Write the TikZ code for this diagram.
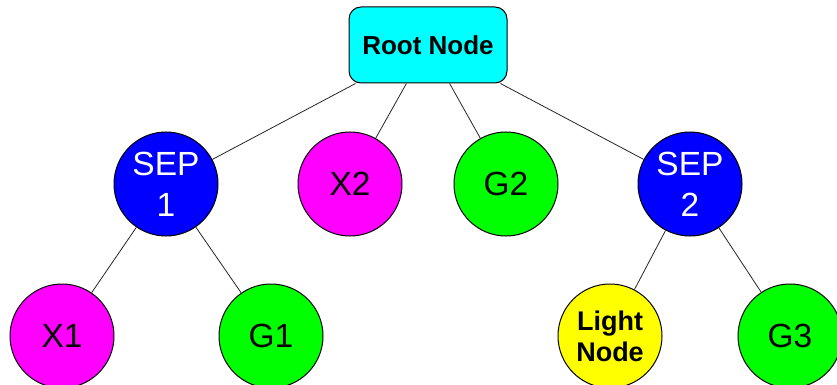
\documentclass[tikz,border=0pt]{standalone}
\usepackage{fontspec}
\setmainfont{Liberation Sans}
\begin{document}
\begin{tikzpicture}[x=1pt,y=-1pt,
  tnode/.style={circle,draw=black,line width=1pt,minimum size=104pt,inner sep=0pt,align=center,font=\fontsize{33.5}{41}\selectfont},
  sepnode/.style={tnode,fill={rgb,255:red,0;green,0;blue,255},text=white},
  xnode/.style={tnode,fill={rgb,255:red,255;green,0;blue,255}},
  gnode/.style={tnode,fill={rgb,255:red,0;green,255;blue,0}},
  lnode/.style={tnode,fill={rgb,255:red,255;green,255;blue,0},font=\fontsize{27}{31}\selectfont\bfseries},
  rootbox/.style={rectangle,rounded corners=12pt,draw=black,line width=1pt,fill={rgb,255:red,0;green,255;blue,255},minimum width=158pt,minimum height=76pt,font=\fontsize{26}{30}\selectfont\bfseries},
  edge/.style={draw=black!85,line width=0.8pt}]
\useasboundingbox (0,0) rectangle (837,385);
\node[rootbox] (root) at (428,45) {Root Node};
\node[sepnode] (sep1) at (166,184) {SEP\\1};
\node[xnode] (x2) at (350,184) {X2};
\node[gnode] (g2) at (506,184) {G2};
\node[sepnode] (sep2) at (690,184) {SEP\\2};
\node[xnode] (x1) at (62,336) {X1};
\node[gnode] (g1) at (271,336) {G1};
\node[lnode] (light) at (610,336) {Light\\Node};
\node[gnode] (g3) at (790,336) {G3};
\draw[edge] (root) -- (sep1);
\draw[edge] (root) -- (x2);
\draw[edge] (root) -- (g2);
\draw[edge] (root) -- (sep2);
\draw[edge] (sep1) -- (x1);
\draw[edge] (sep1) -- (g1);
\draw[edge] (sep2) -- (light);
\draw[edge] (sep2) -- (g3);
\end{tikzpicture}
\end{document}
